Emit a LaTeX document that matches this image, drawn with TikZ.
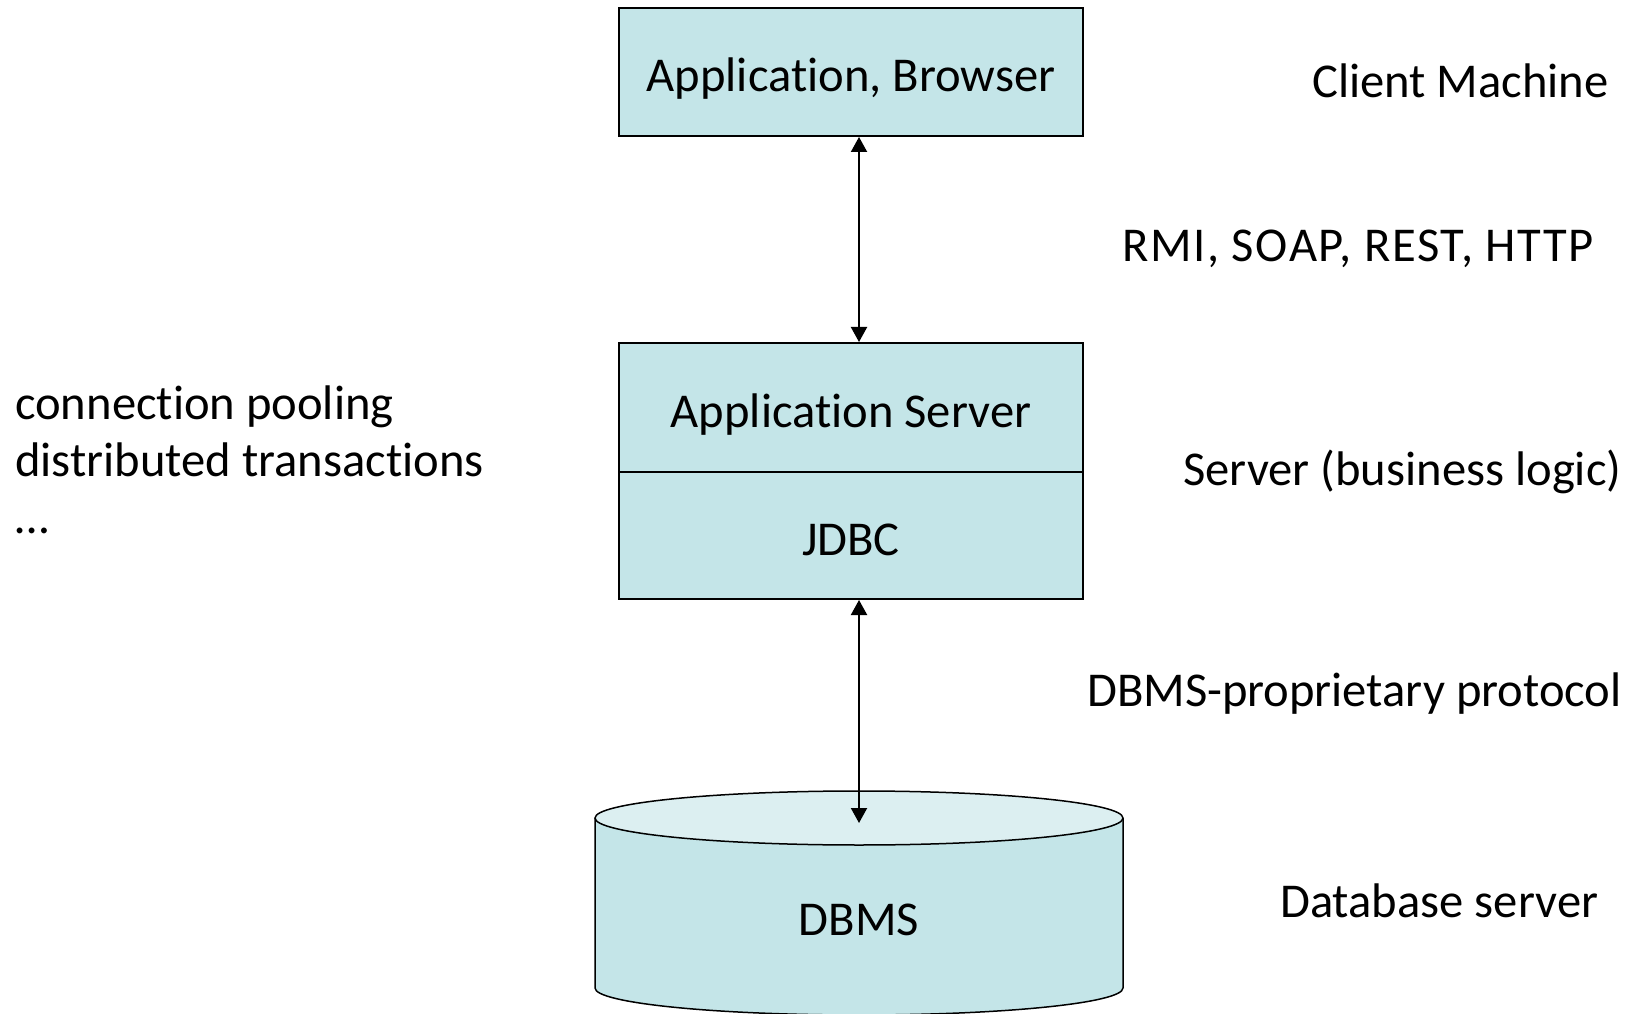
\documentclass[tikz,border=0pt]{standalone}
\usepackage{fontspec}
\setmainfont{Carlito}[Ligatures={NoCommon}]
\usetikzlibrary{arrows.meta}
\definecolor{boxfill}{RGB}{196,229,232}
\definecolor{topfill}{RGB}{220,239,241}
\newcommand{\lowerby}[2]{\raisebox{-#1}[\height][\depth]{#2}}
\tikzset{
  lbl/.style={font=\fontsize{48.6}{57}\selectfont, inner sep=0pt},
  tier/.style={draw=black, line width=2pt, fill=boxfill, minimum width=464pt, inner sep=0pt, font=\fontsize{48.6}{57}\selectfont},
  conn/.style={line width=2pt, {Triangle[length=15pt,width=16pt]}-{Triangle[length=15pt,width=16pt]}}
}
\begin{document}
\begin{tikzpicture}[x=1pt,y=1pt]
\useasboundingbox (0,0) rectangle (1637,1013);
% boxes
\node[tier, minimum height=128pt] (app) at (851,941) {\lowerby{7pt}{Application, Browser}};
\node[tier, minimum height=129pt] (appsrv) at (851,605.5) {\lowerby{7pt}{Application Server}};
\node[tier, minimum height=127pt] (jdbc) at (851,477.5) {\lowerby{4pt}{JDBC}};
% cylinder
\fill[boxfill] (595,195) -- (595,25) arc[start angle=180,end angle=360,x radius=264pt,y radius=27pt] -- (1123,195) -- cycle;
\draw[line width=1.5pt] (595,195) -- (595,25) arc[start angle=180,end angle=360,x radius=264pt,y radius=27pt] -- (1123,195);
\draw[line width=1.5pt, fill=topfill] (859,195) ellipse[x radius=264pt,y radius=27pt];
\node[lbl] (db) at (859,93) {DBMS};
\coordinate (dbtop) at (859,190);
% connectors
\draw[conn] (app.south -| dbtop) -- (appsrv.north -| dbtop);
\draw[conn] (jdbc.south -| dbtop) -- (dbtop);
% side labels
\node[lbl, anchor=west] (client) at (1312,932) {Client Machine};
\node[lbl, anchor=west] (rmi) at (1122,764) {\addfontfeature{LetterSpace=3.3}RMI, SOAP, REST, HTTP};
\node[lbl, anchor=west] (srv) at (1183,541) {Server (business logic)};
\node[lbl, anchor=west] (prop) at (1087,319) {DBMS-proprietary protocol};
\node[lbl, anchor=west] (dbsrv) at (1280,112) {Database server};
\node[lbl, anchor=base west, align=left] (notes) at (15,479) {connection pooling\\distributed transactions\\\dots};
\end{tikzpicture}
\end{document}
